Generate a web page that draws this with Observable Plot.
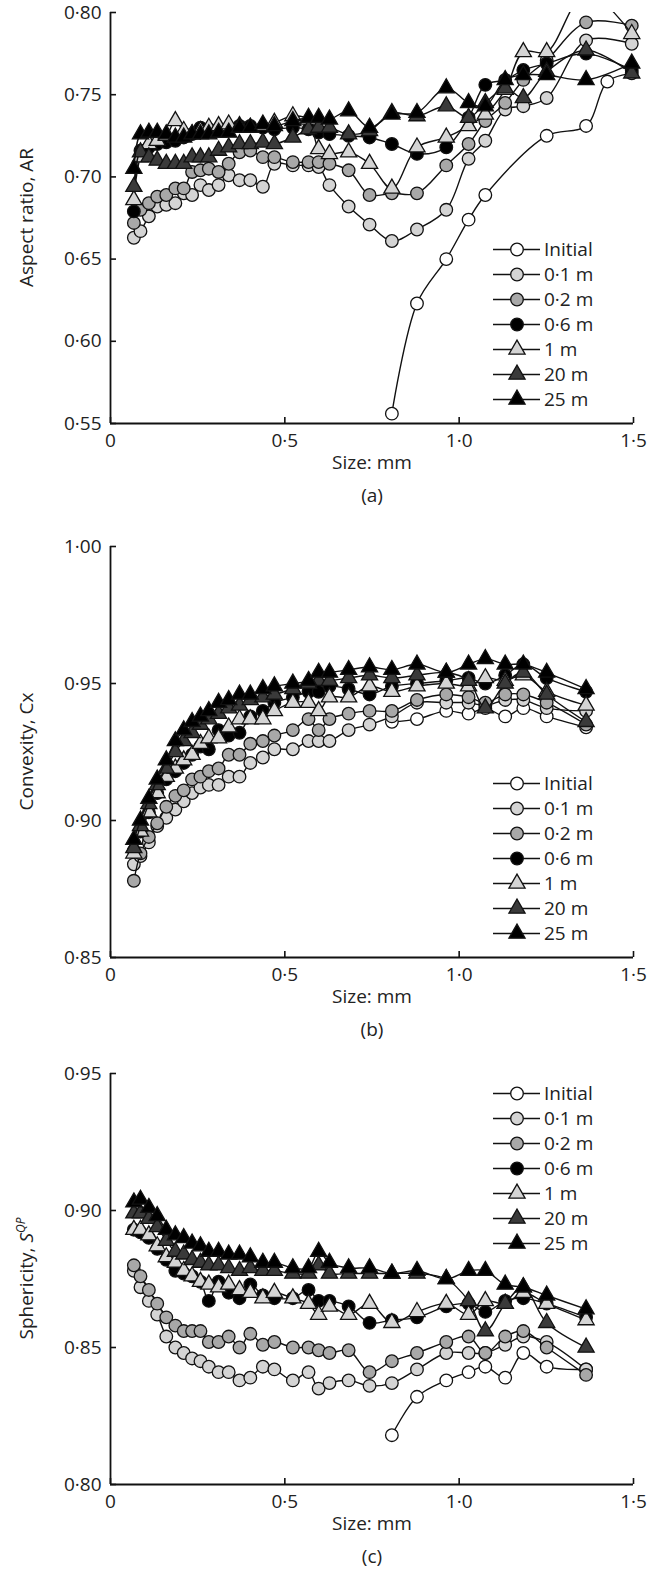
<!DOCTYPE html>
<html>
<head>
<meta charset="utf-8">
<script src="https://cdn.jsdelivr.net/npm/d3@7"></script>
<script src="https://cdn.jsdelivr.net/npm/@observablehq/plot@0.6"></script>
<style>
  body { margin: 0; background: #fff; font-family: "Open Sans", sans-serif; }
  .panel { position: relative; width: 659px; }
  .panel svg.plot { display: block; }
  .legend { position: absolute; left: 493px; font-size: 19px; color: #222; }
  .legend .row { display: flex; align-items: center; height: 25px; }
  .legend .row svg { display: block; }
  .legend .row span { margin-left: 3px; line-height: 25px; white-space: nowrap; }
</style>
</head>
<body>
<div id="chart"></div>
<script>
// ---------- series definitions ----------
const seriesNames = ["Initial", "0·1 m", "0·2 m", "0·6 m", "1 m", "20 m", "25 m"];
const seriesFills = ["#ffffff", "#d4d4d4", "#a8a8a8", "#000000", "#d4d4d4", "#3a3a3a", "#000000"];
const seriesSymbols = ["circle", "circle", "circle", "circle", "triangle", "triangle", "triangle"];

// ---------- x (size, mm) ----------
const xTickValues = [0, 0.5, 1.0, 1.5];
const xTickLabels = ["0", "0·5", "1·0", "1·5"];

const sizesA = [0.067, 0.086, 0.110, 0.134, 0.160, 0.186, 0.210, 0.234, 0.258, 0.282, 0.310, 0.339, 0.370, 0.401, 0.437, 0.470, 0.523, 0.568, 0.597, 0.628, 0.683, 0.743, 0.807, 0.879, 0.963, 1.027, 1.075, 1.132, 1.184, 1.251, 1.364, 1.495];
const sizesBC = [0.067, 0.086, 0.110, 0.134, 0.160, 0.186, 0.210, 0.234, 0.258, 0.282, 0.310, 0.339, 0.370, 0.401, 0.437, 0.470, 0.523, 0.568, 0.597, 0.628, 0.683, 0.743, 0.807, 0.879, 0.963, 1.027, 1.075, 1.132, 1.184, 1.251, 1.364];
const sizesInitialA = [0.807, 0.879, 0.963, 1.027, 1.075, 1.251, 1.364, 1.425, 1.495];
const sizesInitialBC = [0.807, 0.879, 0.963, 1.027, 1.075, 1.132, 1.184, 1.251, 1.364];

// ---------- (a) Aspect ratio ----------
const yTicksA = [0.55, 0.60, 0.65, 0.70, 0.75, 0.80];
const yTickLabelsA = ["0·55", "0·60", "0·65", "0·70", "0·75", "0·80"];
const arInitial = [0.556, 0.623, 0.650, 0.674, 0.689, 0.725, 0.731, 0.758, 0.763];
const ar01 = [0.663, 0.667, 0.676, 0.682, 0.683, 0.684, 0.690, 0.689, 0.695, 0.692, 0.695, 0.701, 0.698, 0.698, 0.694, 0.708, 0.707, 0.707, 0.706, 0.695, 0.682, 0.671, 0.661, 0.668, 0.680, 0.711, 0.722, 0.741, 0.743, 0.748, 0.783, 0.781];
const ar02 = [0.672, 0.680, 0.684, 0.688, 0.689, 0.693, 0.693, 0.703, 0.704, 0.705, 0.703, 0.708, 0.715, 0.716, 0.712, 0.712, 0.709, 0.709, 0.709, 0.708, 0.704, 0.689, 0.690, 0.690, 0.707, 0.720, 0.734, 0.745, 0.759, 0.771, 0.794, 0.792];
const ar06 = [0.679, 0.716, 0.718, 0.720, 0.721, 0.722, 0.724, 0.726, 0.730, 0.729, 0.728, 0.729, 0.731, 0.731, 0.730, 0.729, 0.730, 0.729, 0.727, 0.726, 0.725, 0.724, 0.720, 0.714, 0.718, 0.736, 0.756, 0.759, 0.765, 0.769, 0.775, 0.765];
const ar1 = [0.686, 0.712, 0.720, 0.722, 0.725, 0.734, 0.728, 0.726, 0.728, 0.730, 0.731, 0.732, 0.731, 0.730, 0.731, 0.733, 0.737, 0.735, 0.717, 0.714, 0.715, 0.708, 0.693, 0.718, 0.724, 0.731, 0.738, 0.753, 0.776, 0.776, 0.812, 0.787];
const ar20 = [0.694, 0.715, 0.712, 0.710, 0.708, 0.708, 0.708, 0.712, 0.712, 0.712, 0.716, 0.718, 0.720, 0.720, 0.721, 0.720, 0.724, 0.729, 0.730, 0.730, 0.726, 0.728, 0.739, 0.737, 0.743, 0.736, 0.745, 0.754, 0.748, 0.764, 0.777, 0.763];
const ar25 = [0.705, 0.726, 0.727, 0.727, 0.726, 0.724, 0.724, 0.726, 0.726, 0.726, 0.727, 0.727, 0.730, 0.730, 0.732, 0.731, 0.734, 0.736, 0.736, 0.735, 0.740, 0.730, 0.738, 0.739, 0.754, 0.745, 0.743, 0.759, 0.762, 0.762, 0.759, 0.769];

// ---------- (b) Convexity ----------
const yTicksB = [0.85, 0.90, 0.95, 1.00];
const yTickLabelsB = ["0·85", "0·90", "0·95", "1·00"];
const cxInitial = [0.936, 0.937, 0.940, 0.939, 0.941, 0.938, 0.941, 0.938, 0.934];
const cx01 = [0.884, 0.887, 0.892, 0.898, 0.901, 0.904, 0.907, 0.910, 0.912, 0.913, 0.913, 0.916, 0.916, 0.921, 0.923, 0.926, 0.926, 0.929, 0.929, 0.929, 0.933, 0.935, 0.938, 0.943, 0.943, 0.943, 0.942, 0.944, 0.944, 0.941, 0.940];
const cx02 = [0.878, 0.888, 0.894, 0.899, 0.905, 0.909, 0.911, 0.915, 0.916, 0.918, 0.919, 0.924, 0.924, 0.928, 0.929, 0.931, 0.933, 0.937, 0.933, 0.937, 0.939, 0.940, 0.940, 0.944, 0.946, 0.945, 0.943, 0.946, 0.946, 0.943, 0.935];
const cx06 = [0.889, 0.896, 0.903, 0.910, 0.915, 0.918, 0.921, 0.924, 0.927, 0.926, 0.933, 0.931, 0.932, 0.938, 0.940, 0.943, 0.945, 0.947, 0.947, 0.949, 0.948, 0.946, 0.949, 0.950, 0.951, 0.952, 0.950, 0.953, 0.957, 0.952, 0.947];
const cx1 = [0.888, 0.896, 0.903, 0.910, 0.916, 0.919, 0.922, 0.924, 0.928, 0.930, 0.930, 0.934, 0.937, 0.937, 0.937, 0.940, 0.943, 0.943, 0.940, 0.945, 0.945, 0.949, 0.947, 0.949, 0.950, 0.949, 0.952, 0.951, 0.953, 0.947, 0.942];
const cx20 = [0.890, 0.898, 0.906, 0.913, 0.919, 0.925, 0.929, 0.932, 0.935, 0.937, 0.939, 0.941, 0.942, 0.944, 0.945, 0.946, 0.948, 0.950, 0.951, 0.951, 0.952, 0.953, 0.952, 0.953, 0.954, 0.951, 0.941, 0.950, 0.954, 0.946, 0.936];
const cx25 = [0.893, 0.900, 0.908, 0.915, 0.922, 0.929, 0.933, 0.936, 0.938, 0.940, 0.943, 0.944, 0.946, 0.946, 0.948, 0.949, 0.950, 0.951, 0.954, 0.954, 0.955, 0.956, 0.955, 0.957, 0.954, 0.957, 0.959, 0.957, 0.957, 0.954, 0.948];

// ---------- (c) Sphericity ----------
const yTicksC = [0.80, 0.85, 0.90, 0.95];
const yTickLabelsC = ["0·80", "0·85", "0·90", "0·95"];
const spInitial = [0.818, 0.832, 0.838, 0.841, 0.843, 0.839, 0.848, 0.843, 0.842];
const sp01 = [0.878, 0.872, 0.867, 0.862, 0.854, 0.850, 0.848, 0.846, 0.845, 0.843, 0.841, 0.841, 0.838, 0.839, 0.843, 0.842, 0.838, 0.841, 0.835, 0.837, 0.838, 0.836, 0.837, 0.842, 0.848, 0.848, 0.848, 0.851, 0.854, 0.852, 0.842];
const sp02 = [0.880, 0.876, 0.871, 0.866, 0.861, 0.858, 0.856, 0.856, 0.856, 0.852, 0.852, 0.854, 0.850, 0.855, 0.851, 0.852, 0.850, 0.850, 0.849, 0.848, 0.849, 0.841, 0.845, 0.848, 0.852, 0.854, 0.848, 0.854, 0.856, 0.850, 0.840];
const sp06 = [0.893, 0.892, 0.890, 0.886, 0.882, 0.878, 0.877, 0.876, 0.874, 0.867, 0.874, 0.870, 0.868, 0.873, 0.869, 0.868, 0.868, 0.871, 0.867, 0.867, 0.865, 0.859, 0.860, 0.861, 0.865, 0.866, 0.863, 0.867, 0.868, 0.866, 0.861];
const sp1 = [0.893, 0.893, 0.891, 0.887, 0.883, 0.881, 0.878, 0.876, 0.874, 0.873, 0.872, 0.873, 0.871, 0.870, 0.868, 0.870, 0.868, 0.866, 0.862, 0.865, 0.862, 0.866, 0.859, 0.863, 0.866, 0.862, 0.867, 0.866, 0.870, 0.866, 0.860];
const sp20 = [0.899, 0.899, 0.897, 0.894, 0.889, 0.885, 0.884, 0.882, 0.881, 0.880, 0.880, 0.879, 0.878, 0.879, 0.878, 0.878, 0.877, 0.877, 0.880, 0.877, 0.877, 0.877, 0.877, 0.877, 0.875, 0.867, 0.856, 0.866, 0.872, 0.859, 0.850];
const sp25 = [0.903, 0.904, 0.901, 0.898, 0.893, 0.891, 0.890, 0.888, 0.887, 0.885, 0.885, 0.884, 0.884, 0.883, 0.881, 0.881, 0.879, 0.879, 0.885, 0.881, 0.879, 0.879, 0.877, 0.878, 0.875, 0.878, 0.878, 0.873, 0.872, 0.869, 0.864];

// ---------- build tidy rows ----------
function buildRows(initialSizes, initialValues, sizes, others) {
  const rows = initialSizes.map((s, i) => ({series: seriesNames[0], size: s, value: initialValues[i]}));
  others.forEach((vals, k) => {
    vals.forEach((v, i) => rows.push({series: seriesNames[k + 1], size: sizes[i], value: v}));
  });
  return rows;
}

const panels = [
  {
    rows: buildRows(sizesInitialA, arInitial, sizesA, [ar01, ar02, ar06, ar1, ar20, ar25]),
    domain: [0.55, 0.80], ticks: yTicksA, tickLabels: yTickLabelsA,
    yLabel: [{t: "Aspect ratio, AR"}], caption: "(a)",
    height: 534, marginTop: 12, marginBottom: 111, legendTop: 236.5
  },
  {
    rows: buildRows(sizesInitialBC, cxInitial, sizesBC, [cx01, cx02, cx06, cx1, cx20, cx25]),
    domain: [0.85, 1.00], ticks: yTicksB, tickLabels: yTickLabelsB,
    yLabel: [{t: "Convexity, Cx"}], caption: "(b)",
    height: 527, marginTop: 12, marginBottom: 104, legendTop: 236.5
  },
  {
    rows: buildRows(sizesInitialBC, spInitial, sizesBC, [sp01, sp02, sp06, sp1, sp20, sp25]),
    domain: [0.80, 0.95], ticks: yTicksC, tickLabels: yTickLabelsC,
    yLabel: [{t: "Sphericity, "}, {t: "S", italic: true}, {t: "QP", italic: true, sup: true}], caption: "(c)",
    height: 512, marginTop: 12, marginBottom: 89, legendTop: 19.5
  }
];

const R_CIRCLE = 6.3, R_TRI = 6;
const chart = document.getElementById("chart");

panels.forEach(p => {
  const marks = [];
  seriesNames.forEach((name, i) => {
    const d = p.rows.filter(r => r.series === name);
    marks.push(Plot.line(d, {x: "size", y: "value", curve: "catmull-rom", stroke: "#111", strokeWidth: 1.4, clip: true}));
    marks.push(Plot.dot(d.filter(r => r.value <= p.domain[1]), {
      x: "size", y: "value", symbol: seriesSymbols[i], fill: seriesFills[i],
      stroke: "#111", strokeWidth: 1.3, r: seriesSymbols[i] === "circle" ? R_CIRCLE : R_TRI
    }));
  });
  marks.push(
    Plot.ruleX([0], {stroke: "#111", strokeWidth: 1.8}),
    Plot.ruleY([p.domain[0]], {stroke: "#111", strokeWidth: 1.8}),
    Plot.axisY(p.ticks, {tickSize: 6, tickPadding: 3, label: null,
      tickFormat: v => p.tickLabels[p.ticks.indexOf(v)], stroke: "#111", strokeWidth: 1.6}),
    Plot.axisX(xTickValues, {tickSize: 6, tickPadding: 4, label: null,
      tickFormat: v => xTickLabels[xTickValues.indexOf(v)], stroke: "#111", strokeWidth: 1.6}),
    Plot.text(["Size: mm"], {text: d => d, frameAnchor: "bottom", dy: 45, fill: "#222"}),
    Plot.text([p.caption], {text: d => d, frameAnchor: "bottom", dy: 78, fill: "#222"})
  );
  const svg = Plot.plot({
    width: 659, height: p.height,
    marginLeft: 110, marginRight: 26, marginTop: p.marginTop, marginBottom: p.marginBottom,
    x: {domain: [0, 1.5]},
    y: {domain: p.domain},
    style: {fontFamily: "'Open Sans', sans-serif", fontSize: "19px", color: "#222", background: "#fff"},
    marks
  });
  svg.classList.add("plot");
  // turn ticks inward
  d3.select(svg).selectAll('g[aria-label="y-axis tick"] path').attr("d", "M0,0L6,0");
  d3.select(svg).selectAll('g[aria-label="x-axis tick"] path').attr("d", "M0,0L0,-6");
  // y axis title (rich text)
  const plotH = p.height - p.marginTop - p.marginBottom;
  const t = d3.select(svg).append("text")
    .attr("transform", `translate(26,${p.marginTop + plotH / 2}) rotate(-90)`)
    .attr("text-anchor", "middle").attr("dy", "0.35em")
    .attr("fill", "#222").attr("font-size", 19);
  p.yLabel.forEach(seg => {
    const ts = t.append("tspan").text(seg.t);
    if (seg.italic) ts.attr("font-style", "italic");
    if (seg.sup) ts.attr("baseline-shift", "super").attr("font-size", 12);
  });

  const div = document.createElement("div");
  div.className = "panel";
  div.appendChild(svg);

  // legend
  const leg = document.createElement("div");
  leg.className = "legend";
  leg.style.top = p.legendTop + "px";
  seriesNames.forEach((name, i) => {
    const row = document.createElement("div");
    row.className = "row";
    const sw = d3.create("svg").attr("width", 48).attr("height", 25);
    sw.append("line").attr("x1", 0).attr("x2", 47).attr("y1", 12.5).attr("y2", 12.5)
      .attr("stroke", "#111").attr("stroke-width", 1.4);
    const r = seriesSymbols[i] === "circle" ? R_CIRCLE : R_TRI;
    const sym = d3.symbol().type(seriesSymbols[i] === "circle" ? d3.symbolCircle : d3.symbolTriangle).size(Math.PI * r * r);
    sw.append("path").attr("d", sym()).attr("transform", "translate(24,12.5)")
      .attr("fill", seriesFills[i]).attr("stroke", "#111").attr("stroke-width", 1.3);
    row.appendChild(sw.node());
    const span = document.createElement("span");
    span.textContent = name;
    row.appendChild(span);
    leg.appendChild(row);
  });
  div.appendChild(leg);
  chart.appendChild(div);
});
</script>
</body>
</html>
